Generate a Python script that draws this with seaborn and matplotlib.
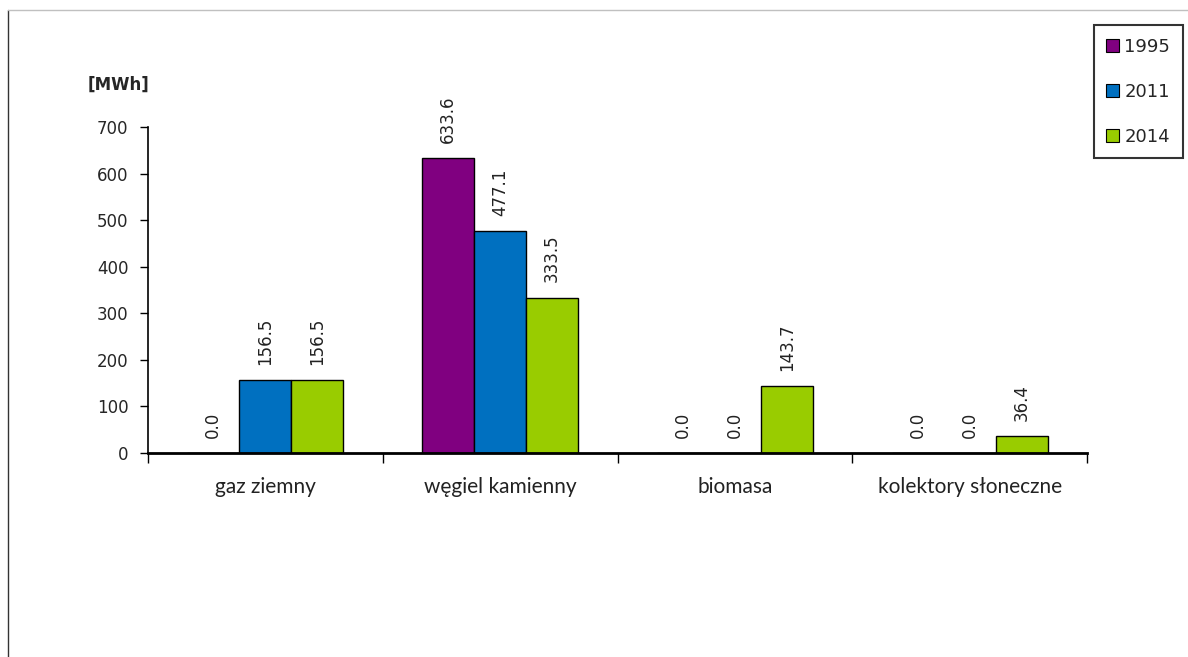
import pandas as pd
import seaborn as sns
import matplotlib.pyplot as plt
from matplotlib.lines import Line2D

categories = ["gaz ziemny", "węgiel kamienny", "biomasa", "kolektory słoneczne"]
years = ["1995", "2011", "2014"]
values_1995 = [0.0, 633.6, 0.0, 0.0]
values_2011 = [156.5, 477.1, 0.0, 0.0]
values_2014 = [156.5, 333.5, 143.7, 36.4]
colors = ["#800080", "#0070C0", "#99CC00"]

rows = []
for year, vals in zip(years, [values_1995, values_2011, values_2014]):
    for cat, v in zip(categories, vals):
        rows.append([cat, year, v])
df = pd.DataFrame(rows, columns=["kategoria", "rok", "MWh"])

sns.set_theme(style="white")
plt.rcParams['font.family'] = ['DejaVu Sans']

fig = plt.figure(figsize=(11.88, 6.57), dpi=100)
ax = fig.add_axes([0.1246, 0.3105, 0.915 - 0.1246, 0.8067 - 0.3105])

sns.barplot(data=df, x="kategoria", y="MWh", hue="rok", palette=colors,
            width=0.665, gap=0, edgecolor="black", linewidth=1,
            saturation=1, ax=ax)

# value labels above bars, rotated like in the original
for cont in ax.containers:
    ax.bar_label(cont, fmt="%.1f", rotation=90, padding=11, fontsize=12,
                 color="#222222")

ax.set_ylim(0, 700)
ax.set_xlim(-0.5, 3.5)
ax.set_yticks(range(0, 701, 100))
ax.set_xlabel("")
ax.set_ylabel("")

# category labels without ticks, ticks at group borders
ax.set_xticks(range(len(categories)))
ax.set_xticklabels(categories, family=["Lato", "DejaVu Sans"], fontsize=15,
                   color="#222222")
ax.set_xticks([i - 0.5 for i in range(len(categories) + 1)], minor=True)
ax.tick_params(axis="x", which="major", length=0, pad=17)
ax.tick_params(axis="x", which="minor", length=7, width=1, color="black",
               direction="out", bottom=True)
ax.tick_params(axis="y", length=6, width=1, color="black", direction="out",
               left=True, labelsize=12, pad=8)

sns.despine(ax=ax)
ax.spines["left"].set_color("black")
ax.spines["left"].set_linewidth(1.2)
ax.spines["bottom"].set_color("black")
ax.spines["bottom"].set_linewidth(2)

fig.text(88 / 1188, 1 - 85 / 657, "[MWh]", fontsize=12, fontweight="bold",
         ha="left", va="center")

leg = ax.legend(loc="upper right", bbox_to_anchor=(1183 / 1188, 1 - 25 / 657),
                bbox_transform=fig.transFigure, fontsize=13,
                frameon=True, fancybox=False, edgecolor="black",
                labelspacing=1.5, handlelength=0.7, handleheight=0.7,
                handletextpad=0.3, borderpad=0.7, borderaxespad=0)
leg.get_frame().set_linewidth(1.5)
for h in leg.legend_handles:
    h.set_edgecolor("black")
    h.set_linewidth(0.8)

# outer frame fragments of the original export
fig.add_artist(Line2D([7.5 / 1188, 7.5 / 1188], [0, 1 - 9.5 / 657],
                      transform=fig.transFigure, color="#333333", lw=1))
fig.add_artist(Line2D([7.5 / 1188, 1], [1 - 9.5 / 657, 1 - 9.5 / 657],
                      transform=fig.transFigure, color="#c0c0c0", lw=1))

fig.savefig("out.png", dpi=100)
